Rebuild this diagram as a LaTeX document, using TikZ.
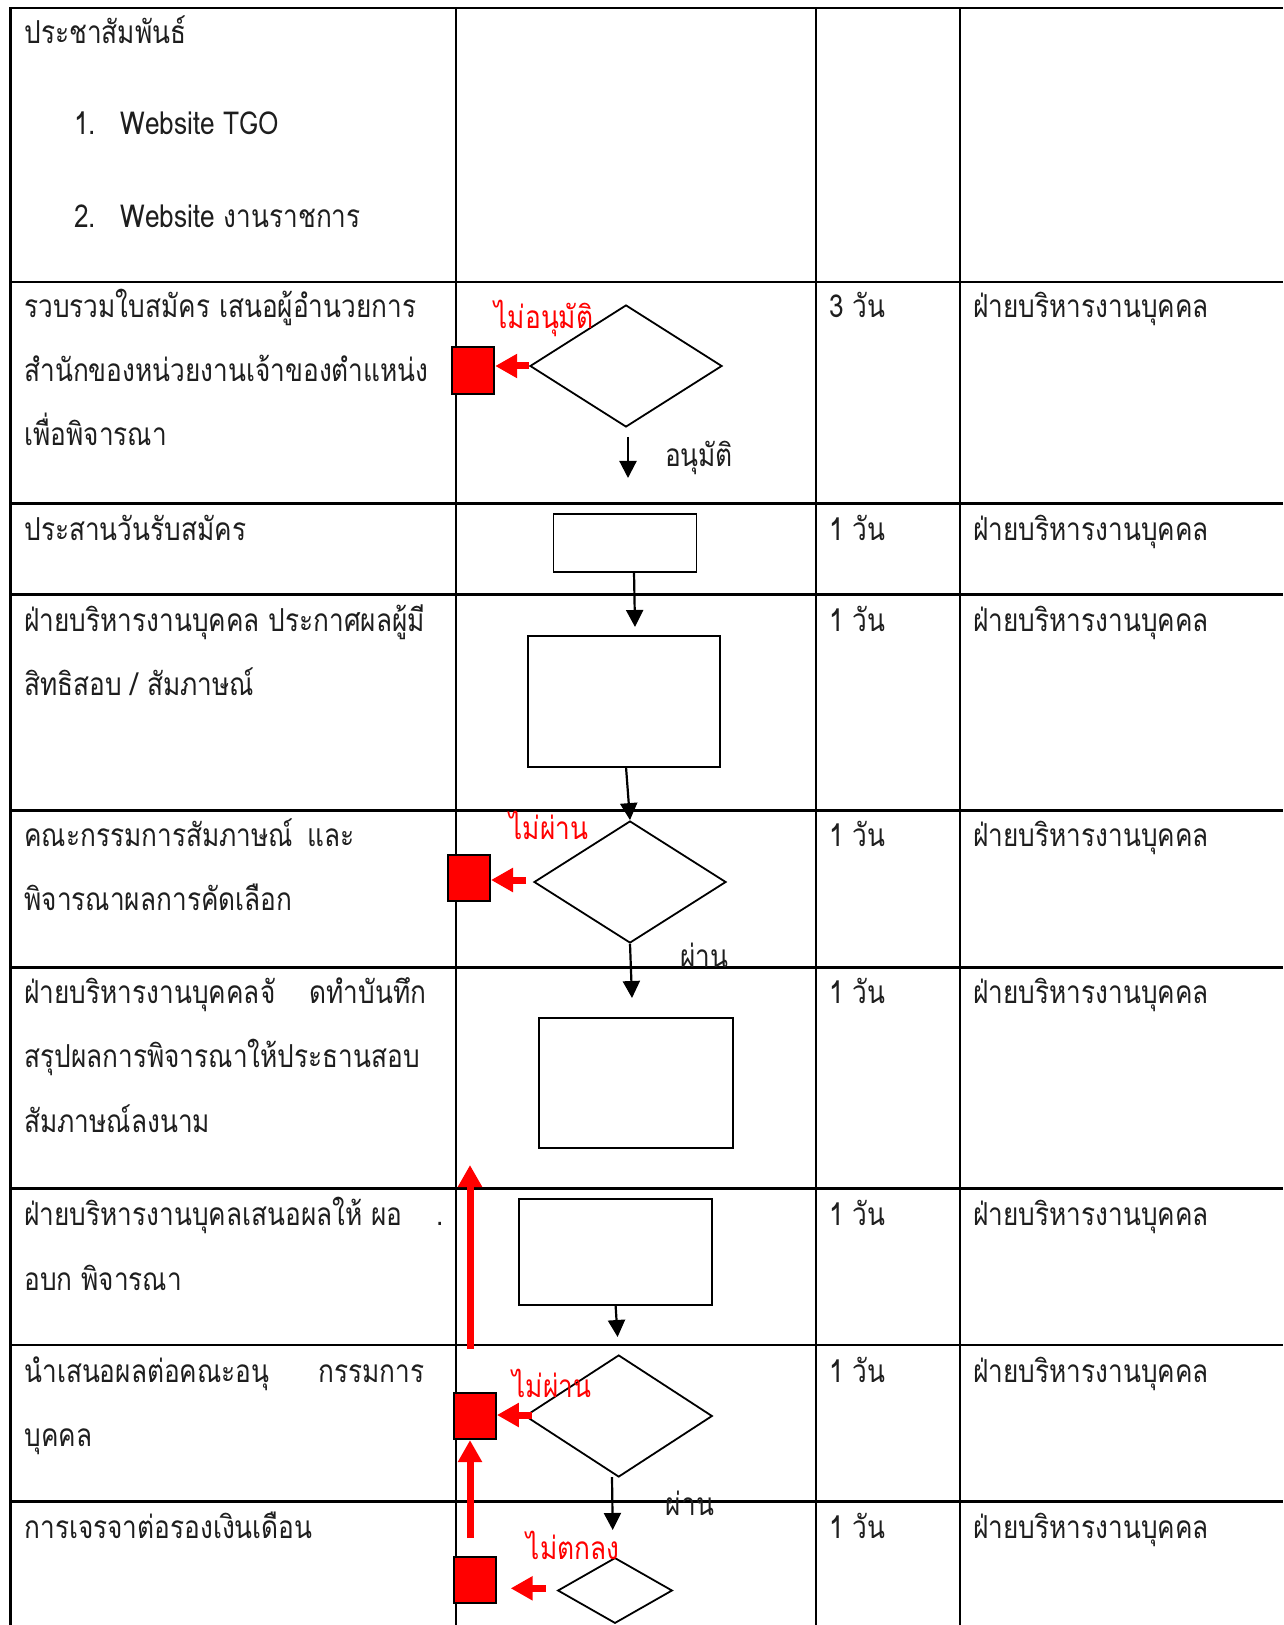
\documentclass[tikz,border=0pt]{standalone}
\usepackage{fontspec}
\setmainfont{Loma}[Script=Thai,FakeStretch=0.83]
\usetikzlibrary{arrows.meta,shapes.geometric,calc}
\definecolor{txt}{RGB}{30,30,30}
\tikzset{
  tbl/.style={line width=1.4pt},
  cell/.style={anchor=base west,inner sep=0pt,text=txt,font=\fontsize{15.8}{18}\selectfont},
  lbl/.style={inner sep=0pt,text=txt,font=\fontsize{15.8}{18}\selectfont},
  redlbl/.style={lbl,text=red},
  procbox/.style={draw,line width=0.9pt,rectangle,inner sep=0pt},
  decbox/.style={draw,line width=0.9pt,diamond,inner sep=0pt},
  rejbox/.style={draw=black,fill=red,line width=0.9pt,rectangle,inner sep=0pt},
  flow/.style={-{Triangle[width=8.5pt,length=8.5pt]},line width=1.1pt},
  back/.style={-{Triangle[width=11.5pt,length=11pt]},line width=3.5pt,red}
}
\begin{document}
\begin{tikzpicture}[x=0.5pt,y=-0.5pt]
\useasboundingbox (0,0) rectangle (1283,1625);
% table
\foreach \yy in {8,282,503.6,594.8,810.6,967.8,1188.6,1345,1501.7}
  \draw[tbl] (10.5,\yy) -- (1283,\yy);
\foreach \xx in {10.5,456,816,960}
  \draw[tbl] (\xx,7.3) -- (\xx,1625);

% row texts
\node[cell] (t1a) at (24,44) {ประชาสัมพันธ์};
\node[cell] (t1b) at (74,135) {1.};
\node[cell] (t1c) at (120,135) {Website TGO};
\node[cell] (t1d) at (74,228) {2.};
\node[cell] (t1e) at (120,228) {Website งานราชการ};

\node[cell] (t2a) at (24,318) {รวบรวมใบสมัคร เสนอผู้อำนวยการ};
\node[cell] (t2b) at (24,382) {สำนักของหน่วยงานเจ้าของตำแหน่ง};
\node[cell] (t2c) at (24,446) {เพื่อพิจารณา};

\node[cell] (t3a) at (24,540) {ประสานวันรับสมัคร};

\node[cell] (t4a) at (24,631) {ฝ่ายบริหารงานบุคคล ประกาศผลผู้มี};
\node[cell] (t4b) at (24,695) {สิทธิสอบ / สัมภาษณ์};

\node[cell] (t5a) at (24,846) {คณะกรรมการสัมภาษณ์\hspace{7pt}และ};
\node[cell] (t5b) at (24,910) {พิจารณาผลการคัดเลือก};

\node[cell] (t6a) at (24,1003) {ฝ่ายบริหารงานบุคคลจั};
\node[cell] (t6b) at (309,1003) {ดทำบันทึก};
\node[cell] (t6c) at (24,1067) {สรุปผลการพิจารณาให้ประธานสอบ};
\node[cell] (t6d) at (24,1132) {สัมภาษณ์ลงนาม};

\node[cell] (t7a) at (24,1225) {ฝ่ายบริหารงานบุคลเสนอผลให้ ผอ};
\node[cell] (t7b) at (436,1225) {.};
\node[cell] (t7c) at (24,1290) {อบก พิจารณา};

\node[cell] (t8a) at (24,1382) {นำเสนอผลต่อคณะอนุ};
\node[cell] (t8b) at (318,1382) {กรรมการ};
\node[cell] (t8c) at (24,1446) {บุคคล};

\node[cell] (t9a) at (24,1538) {การเจรจาต่อรองเงินเดือน};

% time and owner columns
\foreach \yy/\dd [count=\i] in {318/3,540/1,631/1,846/1,1003/1,1225/1,1382/1,1538/1}{
  \node[cell] (d\i) at (829,\yy) {\dd\ วัน};
  \node[cell] (o\i) at (973,\yy) {ฝ่ายบริหารงานบุคคล};
}

% flow shapes
\node[decbox,minimum width=96pt,minimum height=61pt] (dA) at (626,366) {};
\node[rejbox,minimum width=21.3pt,minimum height=23.6pt] (sA) at (473,370.4) {};
\node[procbox,minimum width=71.5pt,minimum height=29pt] (rB) at (625,543) {};
\node[procbox,minimum width=96.3pt,minimum height=65.3pt] (rC) at (624,701.6) {};
\node[decbox,minimum width=96pt,minimum height=61pt] (dD) at (630,882) {};
\node[rejbox,minimum width=21.3pt,minimum height=23.2pt] (sD) at (469,878) {};
\node[procbox,minimum width=96.9pt,minimum height=65.3pt] (rE) at (635.8,1083) {};
\node[procbox,minimum width=96.4pt,minimum height=52.8pt] (rF) at (615.6,1252) {};
\node[decbox,minimum width=93.6pt,minimum height=61pt] (dG) at (618.7,1416) {};
\node[rejbox,minimum width=21pt,minimum height=23.2pt] (sG) at (475,1416) {};
\node[decbox,minimum width=57.3pt,minimum height=32.8pt] (dH) at (615,1590.5) {};
\node[rejbox,minimum width=21pt,minimum height=23.3pt] (sH) at (475,1580) {};

% labels
\node[redlbl] (lA) at (544,318) {ไม่อนุมัติ};
\node[lbl] (lA2) at (699,458) {อนุมัติ};
\node[redlbl] (lD) at (549,825) {ไม่ผ่าน};
\node[lbl] (lD2) at (704,955) {ผ่าน};
\node[redlbl] (lG) at (552,1383) {ไม่ผ่าน};
\node[lbl] (lG2) at (690,1503) {ผ่าน};
\node[redlbl] (lH) at (573,1545) {ไม่ตกลง};

% coordinates for free connector ends
\coordinate (a1s) at (628,437);
\coordinate (a1e) at (628,478);
\coordinate (b1s) at (634,572);
\coordinate (b1e) at (635,627);
\coordinate (c1s) at (626,767);
\coordinate (e1s) at (526,880);
\coordinate (e1e) at (491,880);
\coordinate (f1e) at (632,998);
\coordinate (g1e) at (617.6,1337);
\coordinate (h1s) at (531.7,1415);
\coordinate (i1s) at (612,1477);
\coordinate (i1e) at (612.7,1530);
\coordinate (j1s) at (470,1349);
\coordinate (j1e) at (470,1165);
\coordinate (k1s) at (470,1538);
\coordinate (m1s) at (545.7,1588.3);
\coordinate (m1e) at (510.7,1588.3);

% connectors
\draw[back] (dA.west) -- (dA.west -| sA.east);
\draw[flow] (a1s) -- (a1e);
\draw[flow] (b1s) -- (b1e);
\draw[flow] (c1s) -- (dD.north);
\draw[back] (e1s) -- (e1e);
\draw[flow] (dD.south) -- (f1e);
\draw[flow] (rF.south) -- (g1e);
\draw[back] (h1s) -- (h1s -| sG.east);
\draw[flow] (i1s) -- (i1e);
\draw[back] (j1s) -- (j1e);
\draw[back] (k1s) -- (k1s |- sG.south);
\draw[back] (m1s) -- (m1e);
\end{tikzpicture}
\end{document}
